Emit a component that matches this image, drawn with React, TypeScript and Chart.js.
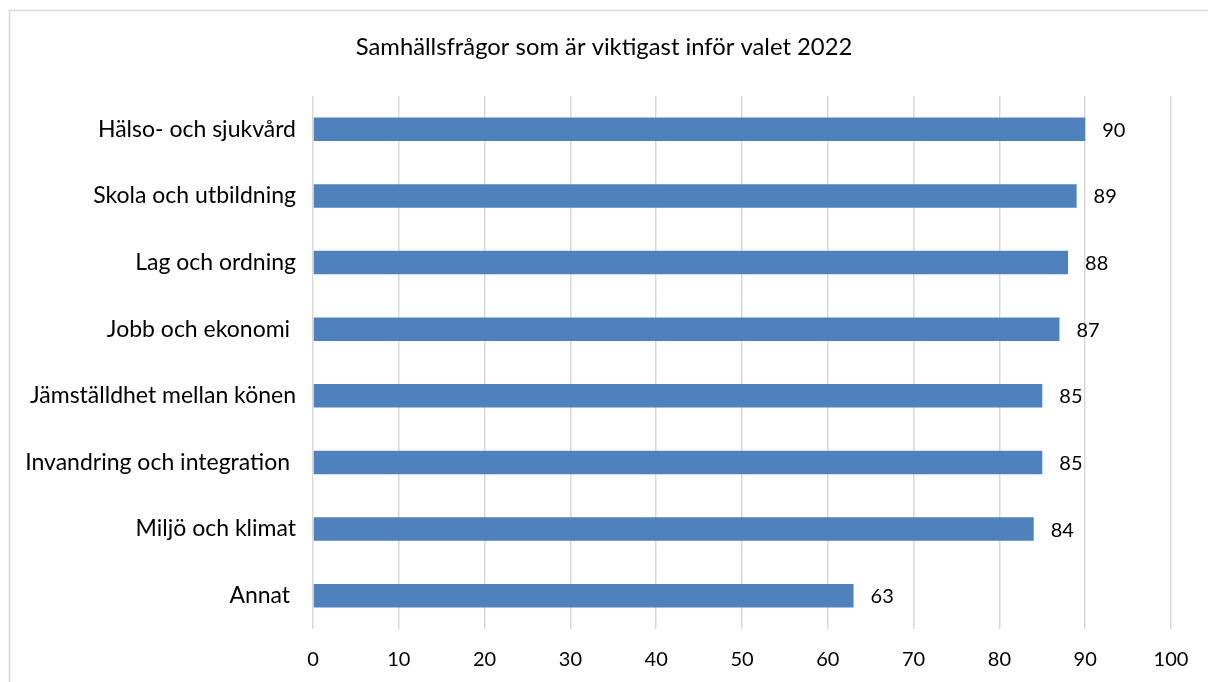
import React, { useEffect, useRef } from "react";
import { Chart, registerables } from "chart.js";

Chart.register(...registerables);

const categories = [
  "Hälso- och sjukvård",
  "Skola och utbildning",
  "Lag och ordning",
  "Jobb och ekonomi ",
  "Jämställdhet mellan könen",
  "Invandring och integration ",
  "Miljö och klimat",
  "Annat ",
];
const values = [90, 89, 88, 87, 85, 85, 84, 63];
const xTicks = [0, 10, 20, 30, 40, 50, 60, 70, 80, 90, 100];
const titleText = "Samhällsfrågor som är viktigast inför valet 2022";

const FONT = "Lato";

const frame = {
  id: "frame",
  beforeDraw(chart: any) {
    const ctx = chart.ctx;
    ctx.save();
    ctx.fillStyle = "#fff";
    ctx.fillRect(0, 0, chart.width, chart.height);
    ctx.strokeStyle = "#d9d9d9";
    ctx.lineWidth = 1.5;
    ctx.beginPath();
    ctx.moveTo(9.5, chart.height);
    ctx.lineTo(9.5, 10.5);
    ctx.lineTo(chart.width, 10.5);
    ctx.stroke();
    ctx.font = `23.8px ${FONT}`;
    ctx.fillStyle = "#000";
    ctx.textAlign = "center";
    ctx.textBaseline = "middle";
    ctx.fillText(titleText, chart.width / 2, 47);
    ctx.restore();
  },
};

const dataLabels = {
  id: "dataLabels",
  afterDatasetsDraw(chart: any) {
    const ctx = chart.ctx;
    const meta = chart.getDatasetMeta(0);
    ctx.save();
    ctx.font = `20px ${FONT}`;
    ctx.fillStyle = "#000";
    ctx.textAlign = "left";
    ctx.textBaseline = "middle";
    meta.data.forEach((bar: any, i: number) => {
      ctx.fillText(String(chart.data.datasets[0].data[i]), bar.x + 17, bar.y + 1);
    });
    ctx.restore();
  },
};

export default function App() {
  const ref = useRef<HTMLCanvasElement>(null);
  useEffect(() => {
    if (!ref.current) return;
    const chart = new Chart(ref.current, {
      type: "bar",
      data: {
        labels: categories,
        datasets: [
          {
            data: values,
            backgroundColor: "#4F81BD",
            barPercentage: 0.353,
            categoryPercentage: 1,
          },
        ],
      },
      plugins: [frame, dataLabels],
      options: {
        indexAxis: "y",
        responsive: false,
        animation: false,
        layout: { padding: { left: 0, right: 37, top: 96, bottom: 0 } },
        plugins: {
          legend: { display: false },
          tooltip: { enabled: false },
          title: { display: false },
        },
        scales: {
          x: {
            min: 0,
            max: 100,
            afterBuildTicks(scale: any) {
              scale.ticks = xTicks.map((v) => ({ value: v }));
            },
            afterFit(scale: any) {
              scale.height = 53;
            },
            grid: { color: "#d9d9d9", lineWidth: 1.5, drawTicks: false },
            border: { display: false },
            ticks: {
              color: "#000",
              padding: 19,
              font: { family: FONT, size: 20 },
            },
          },
          y: {
            afterFit(scale: any) {
              scale.width = 313;
            },
            grid: { display: false, drawTicks: false },
            border: { display: false },
            ticks: {
              color: "#000",
              padding: 17,
              font: { family: FONT, size: 23 },
            },
          },
        },
      },
    });
    return () => chart.destroy();
  }, []);
  return (
    <div style={{ position: "absolute", left: 0, top: 0, width: 1208, height: 682 }}>
      <canvas ref={ref} width={1208} height={682} />
    </div>
  );
}
